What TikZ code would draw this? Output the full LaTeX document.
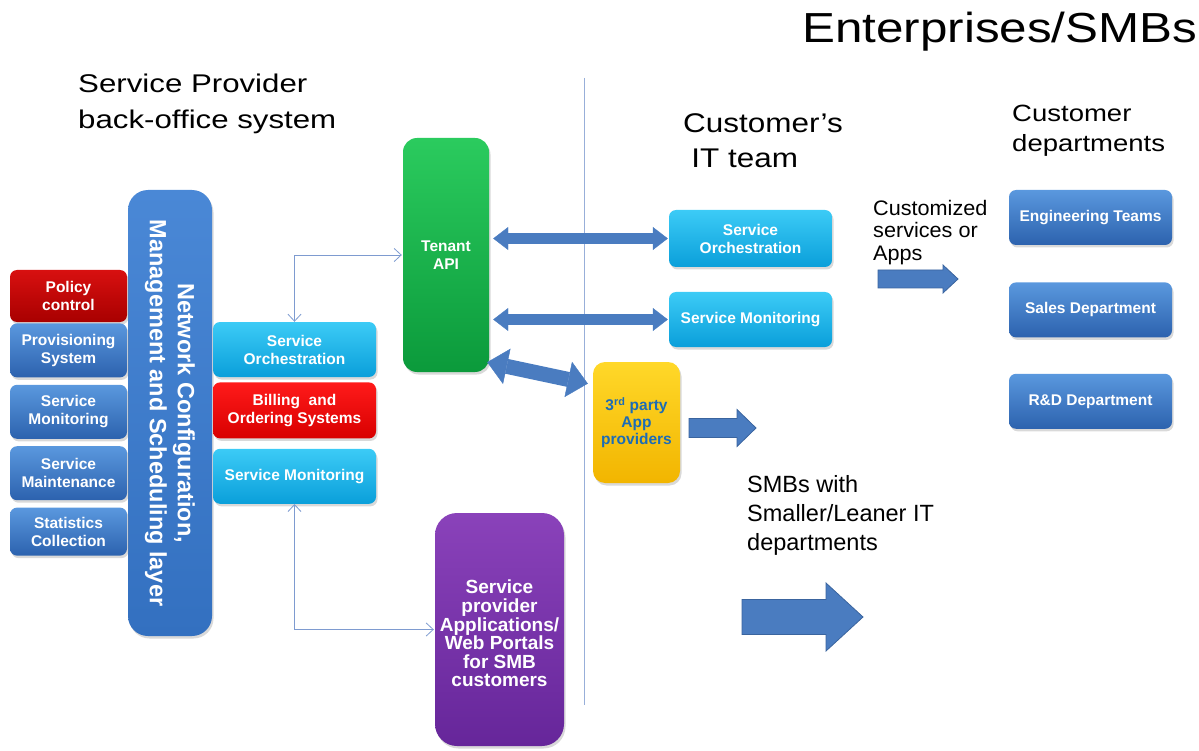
\documentclass[tikz,border=0pt]{standalone}
\usepackage{fontspec}
\setmainfont{Liberation Sans}
\usetikzlibrary{positioning,arrows.meta,shadows}

\definecolor{blueT}{HTML}{5A98DE}
\definecolor{blueB}{HTML}{2C62AE}
\definecolor{layerT}{HTML}{4A88D6}
\definecolor{layerB}{HTML}{3370C0}
\definecolor{cyanT}{HTML}{3CCBF6}
\definecolor{cyanB}{HTML}{0A9FDA}
\definecolor{redT}{HTML}{FF1A1A}
\definecolor{redB}{HTML}{D80000}
\definecolor{dredT}{HTML}{D81010}
\definecolor{dredB}{HTML}{A80000}
\definecolor{greenT}{HTML}{2BCB5E}
\definecolor{greenB}{HTML}{0B9A3B}
\definecolor{yellowT}{HTML}{FFD829}
\definecolor{yellowB}{HTML}{F2B500}
\definecolor{purpleT}{HTML}{8A42BA}
\definecolor{purpleB}{HTML}{66269A}
\definecolor{arrowfill}{HTML}{4A7CC0}
\definecolor{arrowedge}{HTML}{3A649E}
\definecolor{linkblue}{HTML}{7E9BD0}
\definecolor{thirdtext}{HTML}{1C6CB6}

\tikzset{bigarrow/.style={fill=arrowfill, draw=arrowedge, line width=0.8pt}}
% block arrow: from x, to x, at y, shaft, head width, head length
\newcommand{\fatarrow}[6]{%
  \filldraw[bigarrow] (#1,{#3-#4/2}) -- ({#2-#6},{#3-#4/2}) -- ({#2-#6},{#3-#5/2})
    -- (#2,#3) -- ({#2-#6},{#3+#5/2}) -- ({#2-#6},{#3+#4/2}) -- (#1,{#3+#4/2}) -- cycle;}

\begin{document}
\begin{tikzpicture}[x=1pt,y=-1pt,shorten >=1pt,
    panel/.style={rounded corners=7pt, align=center, text=white, inner sep=2pt,
      font=\bfseries\fontsize{15.5}{18}\selectfont,
      drop shadow={opacity=0.3,shadow xshift=1.5pt,shadow yshift=-2.5pt}},
    bluepanel/.style={panel, top color=blueT, bottom color=blueB},
    cyanpanel/.style={panel, top color=cyanT, bottom color=cyanB},
    redpanel/.style={panel, top color=redT, bottom color=redB},
    title/.style={inner sep=0pt, align=left, anchor=north west},
    link/.style={draw=linkblue, line width=0.8pt,
      arrows={Straight Barb[length=7pt,width=13pt]-Straight Barb[length=7pt,width=13pt]}},
    dblarrow/.style={draw=arrowfill, line width=11pt,
      arrows={Triangle[width=23pt,length=15pt,line width=0.4pt]-Triangle[width=23pt,length=15pt,line width=0.4pt]}}]
  \useasboundingbox (0,0) rectangle (1199,751);

  % headings
  \node[anchor=base west, inner sep=0pt, xscale=1.175, font=\fontsize{42}{42}\selectfont] (ent) at (802,43) {Enterprises/SMBs};
  \node[title, xscale=1.22, font=\fontsize{25.6}{36}\selectfont] (spo) at (78,73.3) {Service Provider\\back-office system};
  \node[title, xscale=1.165, font=\fontsize{27}{35}\selectfont] (cit) at (683,113.3) {Customer’s\\\hspace{7pt}IT team};
  \node[title, xscale=1.17, font=\fontsize{23.5}{30}\selectfont] (cdep) at (1012,104.8) {Customer\\departments};
  \node[title, xscale=1.03, font=\fontsize{21}{22.5}\selectfont] (cust) at (873,199.7) {Customized\\services or\\Apps};
  \node[title, font=\fontsize{23.5}{29}\selectfont] (smb) at (747,474.8) {SMBs with\\Smaller/Leaner IT\\departments};

  \draw[draw=linkblue!80, line width=1pt] (584,78) -- (584,706);

  % back-office side
  \node[panel, rotate=-90, rounded corners=20pt, minimum width=446pt, minimum height=84pt,
    top color=layerT, bottom color=layerB,
    font=\bfseries\fontsize{23.5}{28}\selectfont] (layer) at (170,413)
    {Network Configuration,\\Management and Scheduling layer};
  \node[redpanel, top color=dredT, bottom color=dredB, minimum width=117pt, minimum height=52pt] (policy) at (68.5,296) {Policy\\control};
  \node[bluepanel, minimum width=117pt, minimum height=54pt, below=1pt of policy] (prov) {Provisioning\\System};
  \node[bluepanel, minimum width=117pt, minimum height=54pt, below=7pt of prov] (mon) {Service\\Monitoring};
  \node[bluepanel, minimum width=117pt, minimum height=54pt, below=7pt of mon] (maint) {Service\\Maintenance};
  \node[bluepanel, minimum width=117pt, minimum height=48pt, below=7pt of maint] (stats) {Statistics\\Collection};

  \node[cyanpanel, minimum width=163pt, minimum height=55pt] (so) at (294.5,349.5) {Service\\Orchestration};
  \node[redpanel, minimum width=163pt, minimum height=56pt, below=5pt of so] (bill) {Billing~ and\\Ordering Systems};
  \node[cyanpanel, minimum width=163pt, minimum height=55pt, below=10pt of bill] (sm) {Service Monitoring};

  \node[panel, rounded corners=14pt, top color=greenT, bottom color=greenB,
    minimum width=86pt, minimum height=234pt] (api) at (446,255) {Tenant\\API};
  \node[panel, rounded corners=22pt, top color=purpleT, bottom color=purpleB,
    font=\bfseries\fontsize{19}{18.6}\selectfont,
    minimum width=129pt, minimum height=233pt] (portal) at (499.5,629.5)
    {\rule{0pt}{22pt}Service\\provider\\Applications/\\Web Portals\\for SMB\\customers};

  % customer side
  \node[cyanpanel, minimum width=163pt, minimum height=57pt] (cso) at (750.5,238.5) {Service\\Orchestration};
  \node[cyanpanel, minimum width=163pt, minimum height=55pt] (csm) at (750.5,319.5) {Service Monitoring};
  \node[panel, rounded corners=12pt, top color=yellowT, bottom color=yellowB, text=thirdtext,
    font=\bfseries\fontsize{15.5}{17}\selectfont,
    minimum width=87pt, minimum height=121pt] (third) at (636.5,422.5) {3\textsuperscript{rd} party\\App\\providers};

  \node[bluepanel, minimum width=163pt, minimum height=55pt] (eng) at (1090.5,217.5) {Engineering Teams};
  \node[bluepanel, minimum width=163pt, minimum height=55pt, below=37pt of eng] (sales) {Sales Department};
  \node[bluepanel, minimum width=163pt, minimum height=55pt, below=36pt of sales] (rd) {R\&D Department};

  \draw[link] (so.north) |- (api.west);
  \draw[link] (sm.south) |- (portal.west);

  \draw[dblarrow, shorten <=4pt] (api.east |- cso.west) -- (cso.west);
  \draw[dblarrow, shorten <=4pt] (api.east |- csm.west) -- (csm.west);
  \draw[dblarrow, line width=15pt,
    arrows={Triangle[width=36pt,length=20pt,line width=0.4pt]-Triangle[width=36pt,length=20pt,line width=0.4pt]}]
    ([shift={(-2,-10)}]api.south east) -- ([shift={(-4,22)}]third.north west);

  \fatarrow{878}{958}{279}{18}{28}{15}
  \fatarrow{689}{756}{428}{19}{37}{19}
  \fatarrow{742}{863}{617}{35}{68}{37}
\end{tikzpicture}
\end{document}
